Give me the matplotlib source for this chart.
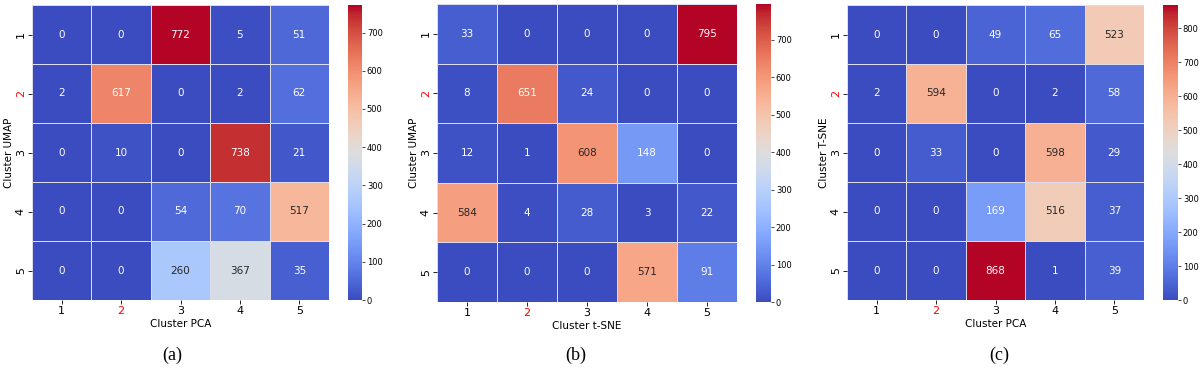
import matplotlib

matplotlib.use("Agg")
import matplotlib.pyplot as plt
import numpy as np
import seaborn as sns

# ---------------------------------------------------------------------------
# Data: cluster contingency tables
# ---------------------------------------------------------------------------
clusters = ["1", "2", "3", "4", "5"]

umap_vs_pca = np.array([
    [0, 0, 772, 5, 51],
    [2, 617, 0, 2, 62],
    [0, 10, 0, 738, 21],
    [0, 0, 54, 70, 517],
    [0, 0, 260, 367, 35],
])
umap_vs_tsne = np.array([
    [33, 0, 0, 0, 795],
    [8, 651, 24, 0, 0],
    [12, 1, 608, 148, 0],
    [584, 4, 28, 3, 22],
    [0, 0, 0, 571, 91],
])
tsne_vs_pca = np.array([
    [0, 0, 49, 65, 523],
    [2, 594, 0, 2, 58],
    [0, 33, 0, 598, 29],
    [0, 0, 169, 516, 37],
    [0, 0, 868, 1, 39],
])

panels = [
    (umap_vs_pca, "Cluster PCA", "Cluster UMAP", "(a)"),
    (umap_vs_tsne, "Cluster t-SNE", "Cluster UMAP", "(b)"),
    (tsne_vs_pca, "Cluster PCA", "Cluster T-SNE", "(c)"),
]

# pixel boxes for heatmap (left, right, top, bottom) and colorbar (left, right)
W, H = 1200, 371
hm_boxes = [(32, 329, 5, 300), (437, 737, 4, 302), (847, 1144, 5, 300)]
cb_boxes = [(348, 362), (756, 771), (1163, 1178)]
cap_x = [172, 576, 999]

fig = plt.figure(figsize=(12, 3.71), dpi=100)

for (mat, xl, yl, cap), (x0, x1, y0, y1), (c0, c1), cx in zip(
        panels, hm_boxes, cb_boxes, cap_x):
    ax = fig.add_axes([x0 / W, 1 - y1 / H, (x1 - x0) / W, (y1 - y0) / H])
    cax = fig.add_axes([c0 / W, 1 - y1 / H, (c1 - c0) / W, (y1 - y0) / H])
    sns.heatmap(mat, ax=ax, cbar_ax=cax, cmap="coolwarm", annot=True, fmt="d",
                linewidths=0.6, linecolor="#dcdcec",
                annot_kws={"fontsize": 7.5},
                xticklabels=clusters, yticklabels=clusters)
    ax.set_xlabel(xl, fontsize=7.5, labelpad=2)
    ax.set_ylabel(yl, fontsize=7.5, labelpad=1.5)
    ax.tick_params(axis="both", labelsize=8, length=3, width=0.6, pad=1.5)
    ax.set_yticklabels(clusters, rotation=90, va="center")
    ax.get_xticklabels()[1].set_color("red")
    ax.get_yticklabels()[1].set_color("red")
    cax.tick_params(labelsize=6, length=2, width=0.5, pad=1.5)
    fig.text(cx / W, 1 - 355 / H, cap, ha="center", va="center",
             fontsize=13, family="Liberation Serif")

fig.savefig("out.png", dpi=100)
